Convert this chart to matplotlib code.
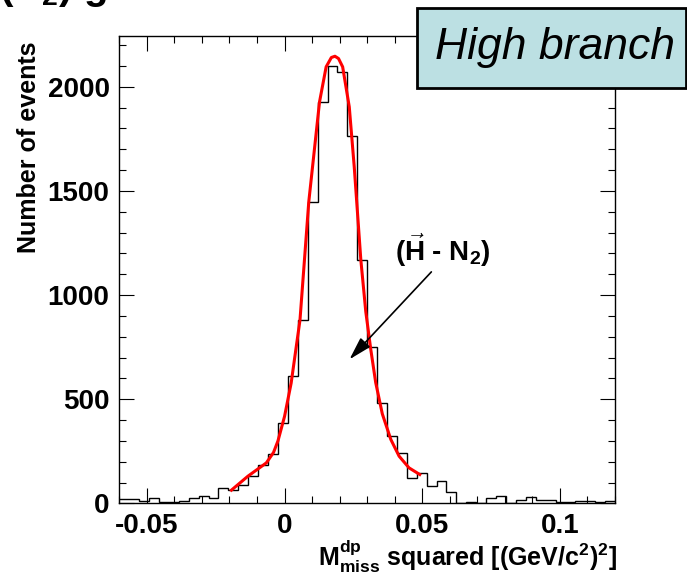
import numpy as np
import matplotlib
matplotlib.use('Agg')
import matplotlib.pyplot as plt
from matplotlib.ticker import MultipleLocator
from matplotlib.patches import Rectangle

plt.rcParams['font.family'] = ['Liberation Sans', 'DejaVu Sans']
plt.rcParams['mathtext.fontset'] = 'custom'
plt.rcParams['mathtext.rm'] = 'Liberation Sans:bold'
plt.rcParams['mathtext.it'] = 'Liberation Sans:bold'
plt.rcParams['mathtext.bf'] = 'Liberation Sans:bold'
plt.rcParams['mathtext.default'] = 'rm'

# histogram binning
x_lo, x_hi, n_bins = -0.06, 0.12, 50

# events per bin
counts = [21, 21, 11, 24, 5, 5, 13, 24, 37, 28,
          72, 67, 91, 131, 184, 236, 388, 610, 880, 1445,
          1927, 2100, 2071, 1765, 1170, 750, 480, 323, 243, 120,
          148, 82, 107, 56, 0, 5, 2, 27, 34, 0,
          19, 29, 19, 19, 8, 5, 14, 14, 5, 11]

# fit curve, points
fit_x = [-0.0193, -0.0133, -0.0066, -0.0040, -0.0024, 0.0000, 0.0024, 0.0056,
         0.0088, 0.0127, 0.0151, 0.0170, 0.0183, 0.0196, 0.0211, 0.0235,
         0.0253, 0.0277, 0.0295, 0.0313, 0.0331, 0.0355, 0.0386, 0.0416,
         0.0452, 0.0491]
fit_y = [64, 131, 195, 245, 300, 418, 578, 880,
         1448, 1927, 2095, 2140, 2146, 2135, 2095, 1903,
         1616, 1169, 920, 740, 580, 430, 307, 227,
         171, 139]

edges = np.linspace(x_lo, x_hi, n_bins + 1)

fig = plt.figure(figsize=(6.87, 5.82), dpi=100)
ax = fig.add_axes([0.1737, 0.1349, 0.7215, 0.8032])

ax.stairs(counts, edges, baseline=None, color='black', lw=1.0)
ax.plot(fit_x, fit_y, color='red', lw=2.2)

ax.set_xlim(x_lo, x_hi)
ax.set_ylim(0, 2243)

ax.xaxis.set_major_locator(MultipleLocator(0.05))
ax.xaxis.set_minor_locator(MultipleLocator(0.01))
ax.yaxis.set_major_locator(MultipleLocator(500))
ax.yaxis.set_minor_locator(MultipleLocator(100))
ax.xaxis.set_major_formatter(matplotlib.ticker.FuncFormatter(lambda v, p: '%g' % round(v, 3)))

ax.tick_params(which='both', direction='in', top=True, right=True, width=0.8,
               labelsize=20)
ax.tick_params(which='major', length=11)
ax.tick_params(which='minor', length=5)
ax.tick_params(axis='y', pad=7)
ax.tick_params(axis='x', pad=7)
for lab in ax.get_xticklabels() + ax.get_yticklabels():
    lab.set_fontweight('bold')
for s in ax.spines.values():
    s.set_linewidth(1.0)

fig.text(29.5 / 687, 0.7466, 'Number of events', rotation=90, ha='center',
         va='center', fontsize=18, fontweight='bold')
fig.text(617 / 687, 1 - 566 / 582,
         r'$M^{dp}_{miss}$ squared [(GeV/c$^{2}$)$^{2}$]',
         ha='right', va='baseline', fontsize=18, fontweight='bold')

# annotation
ax.annotate('', xy=(0.0229, 682), xytext=(0.054, 1121),
            arrowprops=dict(arrowstyle='-|>,head_length=0.7,head_width=0.2',
                            color='black', lw=1.2, mutation_scale=20))
ax.text(0.0575, 1217, r'($\vec{H}$ - N$_2$)', ha='center', va='center',
        fontsize=20, fontweight='bold')

# "High branch" box
fig.patches.append(Rectangle((417 / 687, 1 - 88 / 582), 269 / 687, 80 / 582,
                             transform=fig.transFigure, facecolor='#bce0e3',
                             edgecolor='black', lw=2.0, zorder=5))
fig.text(555 / 687, 1 - 48 / 582, 'High branch', ha='center', va='center',
         fontsize=32, style='italic', zorder=6)

# clipped title at the very top
fig.text(-0.002, 1 + 1 / 582, r'(N$_2$) gas', ha='left', va='baseline',
         fontsize=29, fontweight='bold')

fig.savefig('out.png', dpi=100)
